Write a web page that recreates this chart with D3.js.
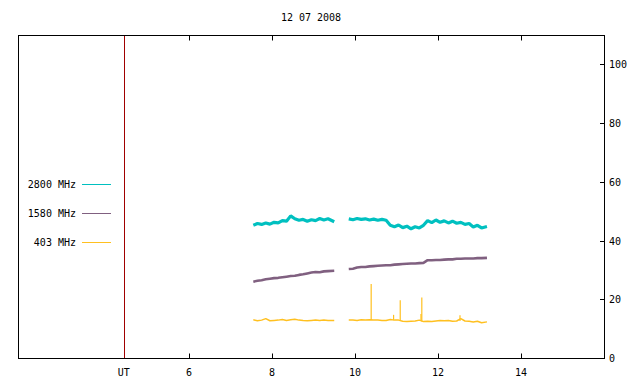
<!DOCTYPE html>
<html>
<head>
<meta charset="utf-8">
<script src="https://cdn.jsdelivr.net/npm/d3@7"></script>
<style>
  body { margin: 0; background: #fff; }
  text { font-family: "DejaVu Sans Mono", monospace; font-size: 10px; fill: #000; }
</style>
</head>
<body>
<svg id="chart" width="640" height="384"></svg>
<script>
// hours UT, two recording segments
const timesA = [7.55, 7.65, 7.75, 7.85, 7.95, 8.05, 8.15, 8.25, 8.35, 8.45,
                8.55, 8.65, 8.75, 8.85, 8.95, 9.05, 9.15, 9.25, 9.35, 9.50];
const timesB = [9.85, 9.95, 10.05, 10.15, 10.25, 10.35, 10.45, 10.55, 10.65, 10.75,
                10.85, 10.95, 11.05, 11.15, 11.25, 11.35, 11.45, 11.55, 11.65, 11.75,
                11.85, 11.95, 12.05, 12.15, 12.25, 12.35, 12.45, 12.55, 12.65, 12.75,
                12.85, 12.95, 13.05, 13.18];

const f2800A = [45.2, 45.8, 45.5, 46.0, 45.6, 46.2, 46.0, 46.8, 46.6, 48.4,
                47.4, 46.9, 47.2, 46.6, 47.1, 46.8, 47.5, 47.0, 47.4, 46.4];
const f2800B = [47.4, 47.1, 47.5, 47.2, 47.4, 47.0, 47.3, 46.9, 47.2, 46.9,
                45.2, 44.7, 45.3, 44.4, 44.9, 44.0, 44.7, 44.3, 45.2, 46.8,
                46.1, 47.0, 46.2, 46.7, 46.0, 46.6, 45.9, 46.2, 45.5, 45.8,
                44.6, 45.2, 44.3, 44.8];

const f1580A = [26.0, 26.3, 26.5, 26.8, 27.0, 27.2, 27.3, 27.5, 27.7, 27.9,
                28.0, 28.3, 28.5, 28.8, 29.1, 29.3, 29.2, 29.5, 29.6, 29.7];
const f1580B = [30.3, 30.4, 30.8, 31.0, 31.0, 31.2, 31.3, 31.4, 31.5, 31.6,
                31.6, 31.8, 31.9, 32.0, 32.1, 32.2, 32.2, 32.3, 32.4, 33.3,
                33.3, 33.4, 33.4, 33.5, 33.6, 33.6, 33.8, 33.8, 33.9, 33.9,
                33.9, 34.0, 34.0, 34.1];

const f403A = [13.0, 12.7, 12.9, 13.4, 12.7, 12.8, 12.9, 13.1, 12.8, 13.0,
               13.2, 12.9, 12.8, 12.7, 12.8, 12.9, 12.8, 12.9, 12.8, 12.8];
const f403B = [12.9, 12.9, 12.8, 13.0, 12.9, 13.0, 12.9, 12.9, 12.8, 12.8,
               13.1, 12.9, 12.9, 12.5, 12.4, 12.5, 12.6, 12.9, 12.4, 12.5,
               12.4, 12.6, 12.8, 12.7, 12.8, 12.5, 12.6, 13.4, 12.6, 12.5,
               12.3, 12.5, 12.0, 12.3];

// narrow bursts on 403 MHz
const burstTimes = [10.39, 10.93, 11.09, 11.59, 11.61, 12.53];
const burstBase  = [12.9, 12.9, 12.9, 12.6, 12.4, 12.6];
const burstPeak  = [25.2, 14.7, 19.7, 15.0, 20.6, 14.6];

const seriesNames = ['2800 MHz', '1580 MHz', '403 MHz'];
const seriesColors = ['#00c0c0', '#806080', '#ffc020'];

const xTicks = [6, 8, 10, 12, 14];
const yTicks = [0, 20, 40, 60, 80, 100];
const utMark = 4.43;
const title = '12 07 2008';

const margin = {left: 18, top: 35, right: 604, bottom: 358};
const svg = d3.select('#chart');

const x = d3.scaleLinear().domain([1.88, 16.0]).range([margin.left, margin.right]);
const y = d3.scaleLinear().domain([0, 110]).range([margin.bottom, margin.top]);

const line = d3.line()
    .x(d => x(d[0]))
    .y(d => y(d[1]));

const series = [
    [d3.zip(timesA, f2800A), d3.zip(timesB, f2800B)],
    [d3.zip(timesA, f1580A), d3.zip(timesB, f1580B)],
    [d3.zip(timesA, f403A), d3.zip(timesB, f403B)]
];
const widths = [3.2, 2.6, 1.5];

// UT marker
svg.append('line')
    .attr('x1', Math.round(x(utMark)) + 0.5).attr('x2', Math.round(x(utMark)) + 0.5)
    .attr('y1', margin.top).attr('y2', margin.bottom)
    .attr('stroke', '#a00000').attr('stroke-width', 1);

series.forEach((segs, i) => {
    segs.forEach(seg => {
        svg.append('path')
            .attr('d', line(seg))
            .attr('fill', 'none')
            .attr('stroke', seriesColors[i])
            .attr('stroke-width', widths[i])
            .attr('stroke-linejoin', 'bevel');
    });
});

svg.selectAll('.burst')
    .data(burstTimes)
    .enter().append('line')
    .attr('class', 'burst')
    .attr('x1', d => x(d)).attr('x2', d => x(d))
    .attr('y1', (d, i) => y(burstBase[i]))
    .attr('y2', (d, i) => y(burstPeak[i]))
    .attr('stroke', seriesColors[2])
    .attr('stroke-width', 1.2);

// frame
svg.append('rect')
    .attr('x', margin.left + 0.5).attr('y', margin.top + 0.5)
    .attr('width', margin.right - margin.left).attr('height', margin.bottom - margin.top)
    .attr('fill', 'none').attr('stroke', '#000').attr('stroke-width', 1);

// x ticks, bottom and top, inward
xTicks.forEach(t => {
    const px = Math.round(x(t)) + 0.5;
    svg.append('line').attr('x1', px).attr('x2', px)
        .attr('y1', margin.bottom + 0.5).attr('y2', margin.bottom - 4.5)
        .attr('stroke', '#000');
    svg.append('line').attr('x1', px).attr('x2', px)
        .attr('y1', margin.top + 0.5).attr('y2', margin.top + 5.5)
        .attr('stroke', '#000');
    svg.append('text')
        .attr('x', x(t)).attr('y', margin.bottom + 18)
        .attr('text-anchor', 'middle')
        .text(t);
});
svg.append('text')
    .attr('x', x(utMark)).attr('y', margin.bottom + 18)
    .attr('text-anchor', 'middle')
    .text('UT');

// right y axis
yTicks.forEach(t => {
    const py = Math.round(y(t)) + 0.5;
    if (t > 0) {
        svg.append('line').attr('x1', margin.right - 4).attr('x2', margin.right + 1)
            .attr('y1', py).attr('y2', py).attr('stroke', '#000');
    }
    svg.append('text')
        .attr('x', margin.right + 5).attr('y', y(t) + 4)
        .text(t);
});

svg.append('text')
    .attr('x', (margin.left + margin.right) / 2).attr('y', 21)
    .attr('text-anchor', 'middle')
    .text(title);

// legend
seriesNames.forEach((name, i) => {
    const ly = 184 + i * 29;
    svg.append('text')
        .attr('x', 76).attr('y', ly + 4)
        .attr('text-anchor', 'end')
        .text(name);
    svg.append('line')
        .attr('x1', 82).attr('x2', 111)
        .attr('y1', ly + 0.5).attr('y2', ly + 0.5)
        .attr('stroke', seriesColors[i]).attr('stroke-width', 1);
});
</script>
</body>
</html>
